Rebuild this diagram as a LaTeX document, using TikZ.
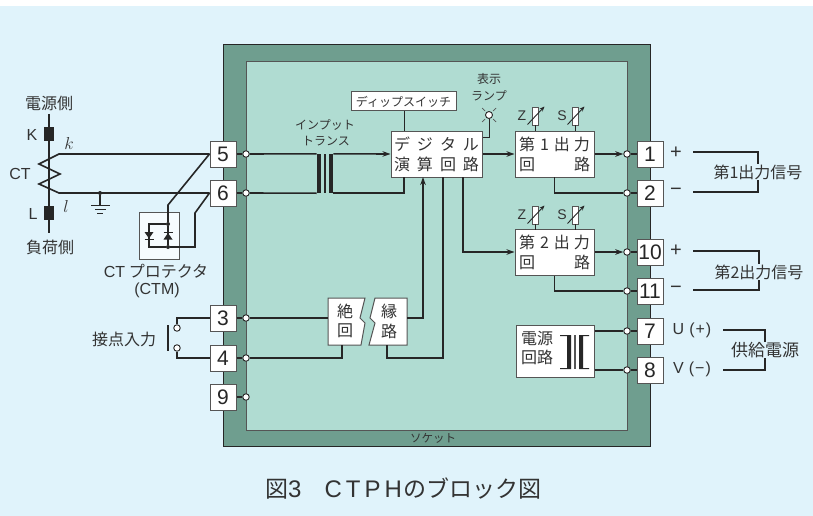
\documentclass[tikz,border=0pt]{standalone}
\usepackage{fontspec}
\setmainfont{Liberation Sans}
\newfontfamily\jpfont{Noto Sans CJK JP}
\usetikzlibrary{arrows.meta}
\definecolor{bgc}{HTML}{E0F3FB}
\definecolor{outerc}{HTML}{6F9E8F}
\definecolor{innerc}{HTML}{B0DCD2}
\definecolor{inkc}{HTML}{262626}
\definecolor{txtc}{HTML}{333333}
\definecolor{edgec}{HTML}{555555}
\newcommand{\fs}[1]{\fontsize{#1}{#1}\selectfont}
\tikzset{
  wire/.style={draw=inkc,line width=1.6pt,line join=miter},
  thinw/.style={draw=inkc,line width=1pt},
  flow/.style={wire,-{Stealth[length=8pt,width=5.5pt]}},
  term/.style={draw=edgec,fill=white,line width=1pt,minimum width=26pt,minimum height=26pt,inner sep=0pt,text=inkc,font=\fs{21}},
  dotc/.style={circle,draw=inkc,fill=white,line width=0.9pt,minimum size=6.5pt,inner sep=0pt},
  jdot/.style={circle,fill=inkc,minimum size=4pt,inner sep=0pt},
  boxw/.style={draw=edgec,fill=white,line width=1pt,inner sep=0pt,text=txtc},
  bar/.style={fill=inkc,inner sep=0pt,minimum width=4.5pt,minimum height=39pt},
  jt/.style={text=txtc,inner sep=0pt,font=\jpfont\fs{16}},
  jts/.style={text=txtc,inner sep=0pt,font=\jpfont\fs{12}},
  lt/.style={text=txtc,inner sep=0pt,font=\fs{16}},
  potbox/.style={draw=edgec,fill=white,line width=0.8pt,minimum width=6pt,minimum height=18pt,inner sep=0pt},
  potarrow/.style={draw=inkc,line width=0.9pt,-{Stealth[length=5pt,width=4pt]}}
}
\begin{document}
\begin{tikzpicture}[x=1pt,y=-1pt]
\useasboundingbox (0,0) rectangle (813,516);
\fill[bgc] (0,6) rectangle (813,516);
\filldraw[fill=outerc,draw=inkc,line width=1pt] (223,45) rectangle (650,446.5);
\filldraw[fill=innerc,draw=edgec,line width=1pt] (246,62) rectangle (627,430);
\node[text=txtc,inner sep=0pt,font=\jpfont\fs{11.5}] (sock) at (433,438) {ソケット};
% terminals
\node[term] (t5) at (223,154) {5};
\node[term] (t6) at (223,193) {6};
\node[term] (t3) at (223,318) {3};
\node[term] (t4) at (223,358) {4};
\node[term] (t9) at (223,397) {9};
\node[term] (t1) at (650,154) {1};
\node[term] (t2) at (650,193) {2};
\node[term] (t10) at (650,252) {10};
\node[term] (t11) at (650,291) {11};
\node[term] (t7) at (650,331) {7};
\node[term] (t8) at (650,370) {8};
% dots
\foreach \n/\x/\y in {5/246/154,6/246/193,3/246/318,4/246/358,9/246/397,1/627/154,2/627/193,10/627/252,11/627/291,7/627/331,8/627/370}
  \node[dotc] (d\n) at (\x,\y) {};
% boxes
\node[boxw,minimum width=105pt,minimum height=19pt,font=\jpfont\fs{12}] (dip) at (403.5,101.5) {ディップスイッチ};
\node[boxw,minimum width=91pt,minimum height=46pt,align=center,font=\jpfont\fs{16}] (dig) at (436.5,154) {デ\hspace{7pt}ジ\hspace{7pt}タ\hspace{7pt}ル\\[4pt]演\hspace{7pt}算\hspace{7pt}回\hspace{7pt}路};
\node[boxw,minimum width=79pt,minimum height=46pt,align=center,font=\jpfont\fs{16}] (o1) at (554.5,154) {第\hspace{5pt}1\hspace{5pt}出\hspace{4pt}力\\[4pt]回\hspace{39pt}路};
\node[boxw,minimum width=79pt,minimum height=46pt,align=center,font=\jpfont\fs{16}] (o2) at (554.5,252.5) {第\hspace{5pt}2\hspace{5pt}出\hspace{4pt}力\\[4pt]回\hspace{39pt}路};
\node[boxw,minimum width=78pt,minimum height=52pt] (pw) at (555,351) {};
\node[jt,align=center] (pwt) at (537,348) {電源\\[3pt]回路};
% power transformer
\fill[inkc] (560,335) -- (571,335) -- (571,369) -- (560,369) -- (560,368) -- (567,368) -- (567,336) -- (560,336) -- cycle;
\fill[inkc] (589,335) -- (579,335) -- (579,369) -- (589,369) -- (589,368) -- (583,368) -- (583,336) -- (589,336) -- cycle;
\fill[edgec] (574,335) rectangle (576,369);
% input transformer
\node[bar] (trL) at (319,173.5) {};
\node[fill=inkc,inner sep=0pt,minimum width=2pt,minimum height=39pt] (trC) at (325,173.5) {};
\node[bar] (trR) at (331,173.5) {};
% isolators
\filldraw[fill=white,draw=edgec,line width=1pt] (328,298) -- (365,298) -- (360,318) -- (365,323) -- (361,345) -- (328,345) -- cycle;
\filldraw[fill=white,draw=edgec,line width=1pt] (375,298) -- (407,298) -- (407,345) -- (369,345) -- (375,323) -- (370,318) -- cycle;
\coordinate (isoLw) at (328,318);
\coordinate (isoLs) at (342,345);
\coordinate (isoRe) at (407,318);
\coordinate (isoRs) at (387,345);
\node[jt] (z1) at (345,311) {絶};
\node[jt] (z2) at (345,331) {回};
\node[jt] (z3) at (389,311) {縁};
\node[jt] (z4) at (389,331) {路};
% pots
\foreach \n/\x/\y in {z1/535/116,s1/575/116,z2/535/215,s2/575/215}
  \node[potbox] (p\n) at (\x,\y) {};
\foreach \x/\y in {535/116,575/116,535/215,575/215}
  \draw[potarrow] (\x-7.5,\y+8.5) -- (\x+9.5,\y-9.5);
\node[lt,font=\fs{14}] (lz1) at (522,116) {Z};
\node[lt,font=\fs{14}] (ls1) at (562,116) {S};
\node[lt,font=\fs{14}] (lz2) at (522,215) {Z};
\node[lt,font=\fs{14}] (ls2) at (562,215) {S};
\coordinate (pz1b) at (535,131);
\coordinate (ps1b) at (575,131);
\coordinate (pz2b) at (535,230);
\coordinate (ps2b) at (575,230);
\draw[thinw] (pz1.south) -- (pz1b);
\draw[thinw] (ps1.south) -- (ps1b);
\draw[thinw] (pz2.south) -- (pz2b);
\draw[thinw] (ps2.south) -- (ps2b);
% terminal stubs
\draw[wire] (t5.east) -- (d5);
\draw[wire] (t6.east) -- (d6);
\draw[wire] (t3.east) -- (d3);
\draw[wire] (t4.east) -- (d4);
\draw[wire] (t9.east) -- (d9);
\draw[wire] (t1.west) -- (d1);
\draw[wire] (t2.west) -- (d2);
\draw[wire] (t10.west) -- (d10);
\draw[wire] (t11.west) -- (d11);
\draw[wire] (t7.west) -- (d7);
\draw[wire] (t8.west) -- (d8);
% inner wires
\draw[wire] (d5) -- (trL.north west);
\draw[wire] (d6) -- (trL.south west);
\draw[flow] (trR.north east) -- (dig.west);
\coordinate (digb1) at (404,177);
\coordinate (digb2) at (423,177);
\coordinate (digb3) at (443,177);
\coordinate (digb4) at (463,177);
\coordinate (digt1) at (404,131);
\draw[wire] (trR.south east) -| (digb1);
\draw[thinw] (dip.south -| digt1) -- (digt1);
\draw[flow] (isoRe) -| (digb2);
\draw[wire] (isoRs) |- (d4 -| digb3) -- (digb3);
\draw[wire] (d3) -- (isoLw);
\draw[wire] (d4) -| (isoLs);
\draw[flow] (digb4) |- (o2.west |- d10);
\draw[flow] (dig.east) -- (o1.west);
\draw[flow] (o1.east) -- (d1);
\draw[flow] (o2.east |- d10) -- (d10);
\coordinate (o1b) at (554.5,177);
\coordinate (o2b) at (554.5,275.5);
\draw[wire] (o1b) |- (d2);
\draw[wire] (o2b) |- (d11);
\draw[wire] (pw.east |- d7) -- (d7);
\draw[wire] (pw.east |- d8) -- (d8);
% lamp
\node[dotc,minimum size=7pt] (lamp) at (489,115) {};
\foreach \a/\b in {-1/-1,1/-1,-1/1,1/1}
  \draw[edgec,line width=0.7pt] (489+\a*4,115+\b*4) -- (489+\a*7,115+\b*7);
\coordinate (lampk) at (489,137);
\draw[thinw] (lamp) -- (lampk) -- (dig.east |- lampk);
\node[jts] (lt1) at (489,79) {表示};
\node[jts] (lt2) at (489,96) {ランプ};
\node[jts] (it1) at (325,125) {インプット};
\node[jts] (it2) at (326,141) {トランス};
% CT
\coordinate (cttop) at (49,114);
\coordinate (ctbot) at (49,233);
\draw[thinw,line width=1.2pt] (cttop) -- (ctbot);
\node[fill=inkc,minimum width=10pt,minimum height=14pt,inner sep=0pt] (kb) at (49,134) {};
\node[fill=inkc,minimum width=10pt,minimum height=14pt,inner sep=0pt] (lb) at (49,213) {};
\coordinate (zg1) at (59,154);
\coordinate (zg2) at (39,164);
\coordinate (zg3) at (60,174);
\coordinate (zg4) at (39,184);
\coordinate (zg5) at (59,193);
\draw[wire] (t5.west) -- (zg1) -- (zg2) -- (zg3) -- (zg4) -- (zg5) -- (t6.west);
\node[jt] (src) at (49,103) {電源側};
\node[lt] (lk) at (32,135) {K};
\node[lt] (lk2) at (69,143) {$k$};
\node[lt] (lct) at (20,174) {CT};
\node[lt] (ll) at (33,214) {L};
\node[lt] (ll2) at (66,206) {$l$};
\node[jt] (load) at (50,247) {負荷側};
% ground
\node[jdot] (gnd) at (100,193) {};
\coordinate (g1l) at (91,205);
\coordinate (g1r) at (110,205);
\coordinate (g1m) at (100,205);
\coordinate (g2l) at (95,209);
\coordinate (g2r) at (106,209);
\coordinate (g3l) at (97,213);
\coordinate (g3r) at (103,213);
\draw[wire] (gnd) -- (g1m);
\draw[thinw] (g1l) -- (g1r);
\draw[thinw] (g2l) -- (g2r);
\draw[thinw] (g3l) -- (g3r);
% CTM
\node[draw=edgec,fill=white!70!bgc,line width=1pt,minimum width=40pt,minimum height=47pt,inner sep=0pt] (ctm) at (159,235.5) {};
\coordinate (ctA) at (168,205);
\node[jdot] (jt1) at (168,224) {};
\node[jdot] (jb1) at (168,247) {};
\coordinate (tl) at (149,224);
\coordinate (bl) at (149,247);
\coordinate (ctB) at (195,247);
\coordinate (ctC) at (195,213);
\draw[wire] (t5.west) -- (ctA) -- (jt1) -- (jb1);
\draw[wire] (jt1) -- (tl) -- (bl) -- (jb1) -- (ctB) -- (ctC) -- (t6.west);
\fill[inkc] (144.5,232) -- (153.5,232) -- (149,238.5) -- cycle;
\draw[inkc,line width=1pt] (144.5,239.5) -- (153.5,239.5);
\fill[inkc] (163.5,239.5) -- (172.5,239.5) -- (168,233) -- cycle;
\draw[inkc,line width=1pt] (163.5,232) -- (172.5,232);
\node[text=txtc,inner sep=0pt,font=\jpfont\fs{16}] (ctp) at (156,271) {{\rmfamily CT} プロテクタ};
\node[lt] (ctmt) at (157,290) {(CTM)};
% contact input
\node[dotc] (c1) at (177,328) {};
\node[dotc] (c2) at (177,348) {};
\draw[wire] (t3.west) -| (c1);
\draw[wire] (t4.west) -| (c2);
\coordinate (bar1) at (168,325);
\coordinate (bar2) at (168,351);
\draw[wire] (bar1) -- (bar2);
\node[jt] (cin) at (124,339) {接点入力};
% right labels
\node[lt,font=\fs{20}] (p1) at (676,153) {+};
\node[lt,font=\fs{20}] (m1) at (676,192) {−};
\node[lt,font=\fs{20}] (p2) at (676,251) {+};
\node[lt,font=\fs{20}] (m2) at (676,290) {−};
\node[lt] (uu) at (692,330) {U\hspace{5pt}(\hspace{1pt}+\hspace{1pt})};
\node[lt] (vv) at (692,369) {V\hspace{5pt}(\hspace{1pt}−\hspace{1pt})};
\node[jt] (s1) at (758,172) {第1出力信号};
\node[jt] (s2) at (759,272) {第2出力信号};
\node[jt,font=\jpfont\fs{17}] (s3) at (765,350) {供給電源};
\coordinate (b1a) at (693,152);
\coordinate (b1b) at (693,192);
\coordinate (b2a) at (693,251);
\coordinate (b2b) at (693,290);
\coordinate (b3a) at (723,330);
\coordinate (b3b) at (723,370);
\draw[wire] (b1a) -| (s1.north);
\draw[wire] (b1b) -| (s1.south);
\draw[wire] (b2a) -| (s2.north);
\draw[wire] (b2b) -| (s2.south);
\draw[wire] (b3a) -| (s3.north);
\draw[wire] (b3b) -| (s3.south);
% title
\node[anchor=west,text=txtc,inner sep=0pt,font=\fs{24}] (title) at (265,489) {{\jpfont\fs{23}図}3\hspace{23pt}C\kern4pt T\kern4pt P\kern4pt H\kern2pt{\jpfont\fs{23}のブロック図}};
\end{tikzpicture}
\end{document}
